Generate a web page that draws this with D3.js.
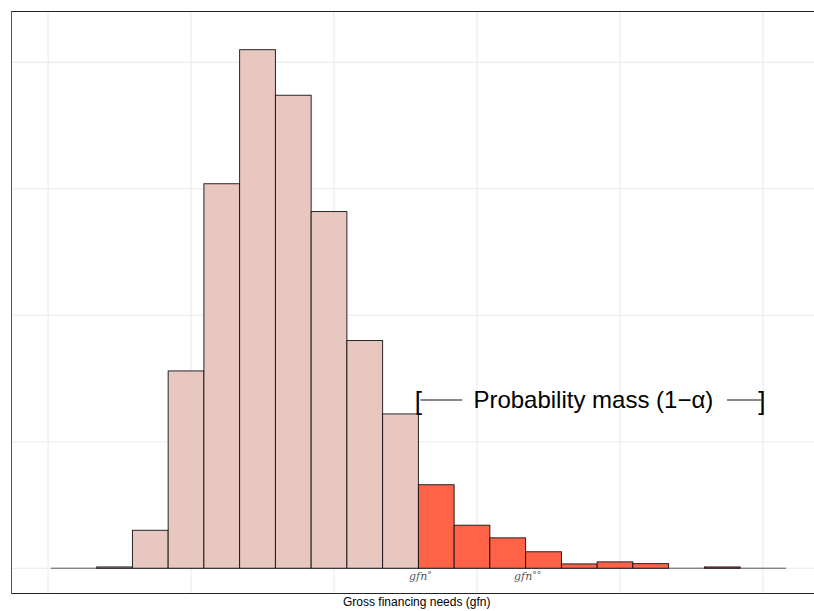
<!DOCTYPE html>
<html>
<head>
<meta charset="utf-8">
<script src="https://cdn.jsdelivr.net/npm/d3@7"></script>
<style>
  html, body { margin: 0; padding: 0; background: #fff; }
  svg { display: block; }
</style>
</head>
<body>
<svg id="chart" width="814" height="611"></svg>
<script>
// Histogram of gross financing needs (share of simulations, %), bin width 2.5
const binWidth = 2.5;
const firstEdge = 3.4;

// body of the distribution (below gfn°)
const bodyShares = [0.05, 1.5, 7.8, 15.2, 20.5, 18.7, 14.1, 9.0, 6.1];
// upper tail (gfn° and above)
const tailShares = [3.3, 1.7, 1.2, 0.65, 0.17, 0.25, 0.18, 0, 0.05, 0];

// baseline extent of the histogram
const baselineRange = [0.2, 51.6];

// gridline breaks
const xBreaks = [0, 10, 20, 30, 40, 50];
const yBreaks = [0, 5, 10, 15, 20];

// x-axis labels
const tickValues = [25.9, 33.4];
const tickMarks = ["°", "°°"];

const xTitle = "Gross financing needs (gfn)";
const annotationText = "Probability mass (1\u2212\u03B1)";
const annotationSpan = [25.9, 50];

// plot geometry
const panel = { left: 11, top: 11, bottom: 593, right: 824.5 };

const x = d3.scaleLinear().domain([-2.59, 54.3]).range([panel.left, panel.right]);
const y = d3.scaleLinear().domain([-0.98, 22.03]).range([panel.bottom, panel.top]);

const svg = d3.select("#chart");

svg.append("defs").append("clipPath").attr("id", "panel-clip")
  .append("rect")
  .attr("x", panel.left).attr("y", panel.top)
  .attr("width", panel.right - panel.left).attr("height", panel.bottom - panel.top);

const plot = svg.append("g").attr("clip-path", "url(#panel-clip)");

// gridlines
plot.append("g").selectAll("line").data(xBreaks).join("line")
  .attr("x1", d => x(d)).attr("x2", d => x(d))
  .attr("y1", panel.top).attr("y2", panel.bottom)
  .attr("stroke", "#EBEBEB").attr("stroke-width", 1.1);
plot.append("g").selectAll("line").data(yBreaks).join("line")
  .attr("x1", panel.left).attr("x2", panel.right)
  .attr("y1", d => y(d)).attr("y2", d => y(d))
  .attr("stroke", "#EBEBEB").attr("stroke-width", 1.1);

// baseline
plot.append("line")
  .attr("x1", x(baselineRange[0])).attr("x2", x(baselineRange[1]))
  .attr("y1", y(0)).attr("y2", y(0))
  .attr("stroke", "#444").attr("stroke-width", 0.9);

// bins
const bodyBins = bodyShares.map((v, i) => ({ x0: firstEdge + i * binWidth, v, tail: false }));
const tailStart = firstEdge + bodyShares.length * binWidth;
const tailBins = tailShares.map((v, i) => ({ x0: tailStart + i * binWidth, v, tail: true }));
const bins = bodyBins.concat(tailBins);

plot.append("g").selectAll("rect").data(bins).join("rect")
  .attr("x", d => x(d.x0))
  .attr("width", d => x(d.x0 + binWidth) - x(d.x0))
  .attr("y", d => y(d.v))
  .attr("height", d => y(0) - y(d.v))
  .attr("fill", d => d.tail ? "#FF6347" : "#E9C7C1")
  .attr("stroke", "#111")
  .attr("stroke-width", 0.9);

// annotation: bracketed span of the tail probability mass
const ann = svg.append("g").attr("font-family", "'Liberation Sans', Arial, sans-serif")
  .attr("font-size", 24).attr("fill", "#000");
const annY = 408;
ann.append("text").attr("x", x(annotationSpan[0]) - 3.7).attr("y", annY + 2)
  .attr("font-size", 26).text("[");
ann.append("text").attr("x", x(annotationSpan[1]) + 2.5).attr("y", annY + 2)
  .attr("font-size", 26).attr("text-anchor", "end").text("]");
ann.append("line")
  .attr("x1", x(annotationSpan[0]) + 2).attr("x2", x(annotationSpan[0]) + 44)
  .attr("y1", 400).attr("y2", 400).attr("stroke", "#111").attr("stroke-width", 1);
ann.append("line")
  .attr("x1", x(annotationSpan[1]) - 36).attr("x2", x(annotationSpan[1]) - 2)
  .attr("y1", 400).attr("y2", 400).attr("stroke", "#111").attr("stroke-width", 1);
ann.append("text").attr("x", x(annotationSpan[0]) + 55).attr("y", annY).text(annotationText);

// panel border
const border = svg.append("g").attr("stroke", "#222").attr("stroke-width", 1).attr("fill", "none");
border.append("line").attr("x1", panel.left).attr("x2", 814).attr("y1", panel.top + 0.5).attr("y2", panel.top + 0.5);
border.append("line").attr("x1", panel.left).attr("x2", 814).attr("y1", panel.bottom + 0.5).attr("y2", panel.bottom + 0.5);
border.append("line").attr("x1", panel.left + 0.5).attr("x2", panel.left + 0.5).attr("y1", panel.top).attr("y2", panel.bottom + 1)
  .attr("stroke", "#555");

// x-axis labels: gfn° and gfn°°
const ticks = svg.append("g")
  .attr("font-family", "'DejaVu Serif', serif")
  .attr("font-style", "italic").attr("font-size", 11).attr("fill", "#555");
tickValues.forEach((v, i) => {
  const t = ticks.append("text").attr("x", x(v) + 2).attr("y", 580).attr("text-anchor", "middle");
  t.append("tspan").text("gfn");
  t.append("tspan").attr("font-size", 9).attr("font-style", "normal").attr("dy", -2).text(tickMarks[i]);
});

// x title
svg.append("text")
  .attr("x", (panel.left + panel.right) / 2 - 1).attr("y", 606)
  .attr("text-anchor", "middle")
  .attr("font-family", "'Liberation Sans', Arial, sans-serif")
  .attr("font-size", 12).attr("fill", "#000")
  .text(xTitle);
</script>
</body>
</html>
